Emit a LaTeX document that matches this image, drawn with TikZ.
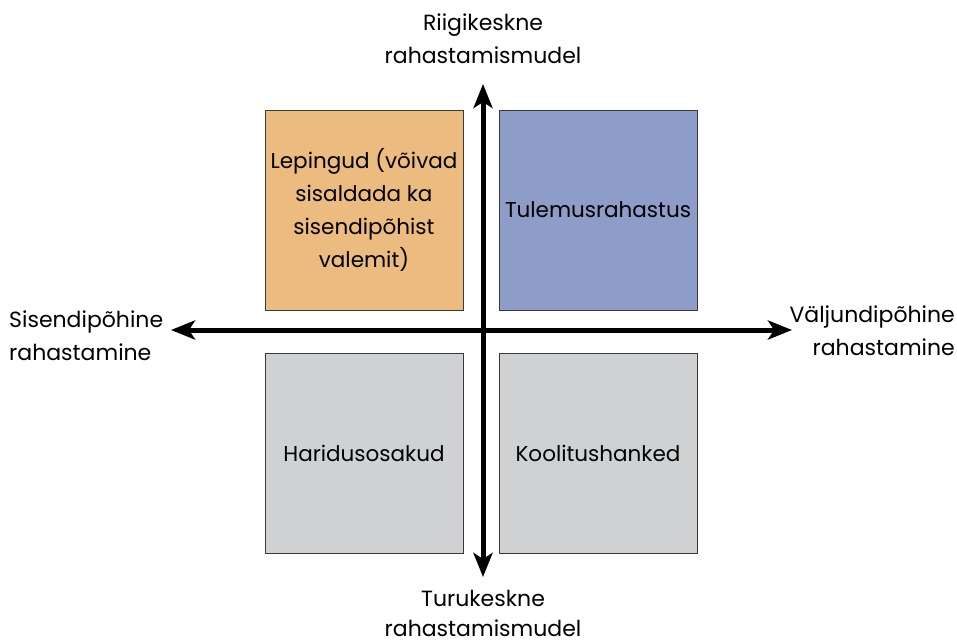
\documentclass[tikz,border=0pt]{standalone}
\usepackage{fontspec}
\setmainfont{Poppins}
\usetikzlibrary{arrows.meta}

\definecolor{boxorange}{HTML}{EBBB7F}
\definecolor{boxblue}{HTML}{8E9CC8}
\definecolor{boxgray}{HTML}{D0D1D3}
\definecolor{boxline}{HTML}{3A3A3A}

\begin{document}
\begin{tikzpicture}[x=1pt, y=-1pt,
	quad/.style = {draw=boxline, line width=0.9pt, minimum width=198pt, minimum height=200pt,
		align=center, inner sep=0pt, font=\fontsize{21.5}{33}\selectfont},
	axislabel/.style = {font=\fontsize{22}{32.5}\selectfont, inner sep=0pt},
	axis/.style = {line width=5pt, -{Stealth[length=24pt, width=19pt, inset=6pt]}}
]
\useasboundingbox (0, 0) rectangle (957, 643);
%\draw[help lines, step=50] (0,0) grid (957,643);

\node[quad, fill=boxorange] (lep) at (364, 210) {Lepingud (võivad\\ sisaldada ka\\ sisendipõhist\\ valemit)};
\node[quad, fill=boxblue] (tul) at (598, 210) {Tulemusrahastus};
\node[quad, fill=boxgray] (har) at (364, 453) {Haridusosakud};
\node[quad, fill=boxgray] (koo) at (598, 453) {Koolitushanked};

\coordinate (mid) at (483, 330);
\coordinate (up) at (483, 84);
\coordinate (down) at (483, 577);
\coordinate (left) at (171, 330);
\coordinate (right) at (792, 330);

\draw[axis] (mid) -- (up);
\draw[axis] (mid) -- (down);
\draw[axis] (mid) -- (left);
\draw[axis] (mid) -- (right);

% multi-line nodes: base = last line
\node[axislabel, align=center, anchor=base] (riik) at (483, 63) {Riigikeskne\\ rahastamismudel};
\node[axislabel, align=center, anchor=base] (turu) at (483, 636) {Turukeskne\\[-3pt] rahastamismudel};
\node[axislabel, align=left, anchor=base west] (sis) at (9, 360) {Sisendipõhine\\ rahastamine};
\node[axislabel, align=right, anchor=base east] (val) at (955, 355) {Väljundipõhine\\ rahastamine};
\end{tikzpicture}
\end{document}
